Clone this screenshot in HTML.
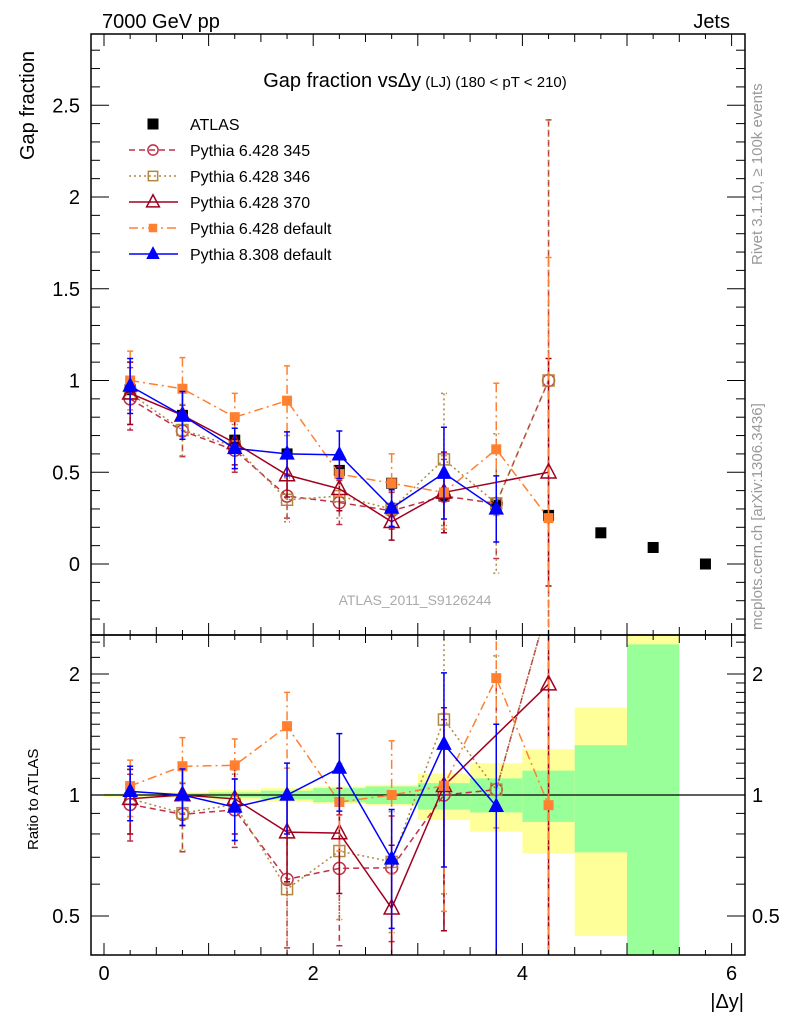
<!DOCTYPE html>
<html><head><meta charset="utf-8"><style>
html,body{margin:0;padding:0;background:#fff;width:786px;height:1024px;overflow:hidden;}
svg{display:block;font-family:"Liberation Sans",sans-serif;}
</style></head><body>
<svg id="chart" width="786" height="1024" viewBox="0 0 786 1024" xmlns="http://www.w3.org/2000/svg">
<defs>
<clipPath id="clipTop"><rect x="91" y="34" width="654" height="601"/></clipPath>
<clipPath id="clipBot"><rect x="91" y="635" width="654" height="320"/></clipPath>
</defs>
<text x="102" y="28" font-size="20">7000 GeV pp</text>
<text x="730" y="28" font-size="20" text-anchor="end">Jets</text>
<text transform="translate(34,160) rotate(-90)" font-size="20">Gap fraction</text>
<text transform="translate(38,850) rotate(-90)" font-size="15">Ratio to ATLAS</text>
<text x="744" y="1008" font-size="20" text-anchor="end">|Δy|</text>
<text x="415" y="87" font-size="20" text-anchor="middle">Gap fraction vs<tspan>Δy</tspan><tspan font-size="15"> (LJ) (180 &lt; pT &lt; 210)</tspan></text>
<text transform="translate(762,265) rotate(-90)" font-size="15" fill="#999">Rivet 3.1.10, ≥ 100k events</text>
<text transform="translate(762,630) rotate(-90)" font-size="15" fill="#999">mcplots.cern.ch [arXiv:1306.3436]</text>
<text x="415" y="605" font-size="14" fill="#aaa" text-anchor="middle">ATLAS_2011_S9126244</text>
<g id="bands" clip-path="url(#clipBot)"></g>
<g id="marksTop" clip-path="url(#clipTop)"></g>
<g id="marksBot" clip-path="url(#clipBot)"></g>
<g id="axes"></g>
<g id="legend"></g>
</svg>
<script>
const xCenters=[0.25,0.75,1.25,1.75,2.25,2.75,3.25,3.75,4.25,4.75,5.25,5.75];
const atlasVals=[0.95,0.81,0.675,0.60,0.51,0.44,0.37,0.32,0.265,0.17,0.09,0.0];
const p345Vals=[0.90,0.725,0.62,0.37,0.335,0.29,0.37,0.33,1.0];
const p345Err=[0.17,0.14,0.12,0.12,0.12,0.1,0.2,0.3,1.42];
const p346Vals=[0.93,0.73,0.64,0.35,0.37,0.30,0.57,0.33,1.0];
const p346Err=[0.17,0.14,0.12,0.12,0.12,0.1,0.36,0.38,1.42];
const p370Vals=[0.93,0.81,0.66,0.485,0.41,0.23,0.39,null,0.50];
const p370Err=[0.17,0.13,0.12,0.12,0.12,0.1,0.22,null,0.62];
const p6defVals=[1.0,0.955,0.80,0.89,0.49,0.44,0.39,0.625,0.25];
const p6defErr=[0.16,0.17,0.13,0.19,0.12,0.16,0.2,0.36,1.42];
const p8Vals=[0.97,0.81,0.63,0.60,0.595,0.305,0.495,0.30,null];
const p8Err=[0.15,0.13,0.11,0.12,0.13,0.1,0.25,0.18,null];
const binEdges=[0,0.5,1,1.5,2,2.5,3,3.5,4,4.5,5,5.5,6];
const bandTotUp=[1.01,1.015,1.03,1.04,1.05,1.06,1.13,1.20,1.30,1.65,2.53,null];
const bandTotDn=[0.99,0.985,0.97,0.96,0.95,0.94,0.866,0.81,0.715,0.446,0.4,null];
const bandStatUp=[1.005,1.01,1.015,1.025,1.04,1.05,1.07,1.10,1.15,1.33,2.37,null];
const bandStatDn=[0.995,0.99,0.985,0.975,0.96,0.95,0.92,0.905,0.857,0.72,0.4,null];
const xTicks=[0,2,4,6];
const yTicksTop=[0,0.5,1,1.5,2,2.5];
const yTicksRatio=[0.5,1,2];

const NS="http://www.w3.org/2000/svg";
const L=91,R=745,T=34,M=635,B=955;
const X=v=>104+104.6*v;
const Y=v=>564-183.5*Math.min(3,Math.max(-0.5,v));
const YR=r=>795-121*Math.log2(Math.min(3,Math.max(0.3,r)));
function mk(tag,attrs,parent){const e=document.createElementNS(NS,tag);for(const k in attrs)e.setAttribute(k,attrs[k]);parent.appendChild(e);return e;}
const axes=document.getElementById('axes');
const bands=document.getElementById('bands');
const gTop=document.getElementById('marksTop');
const gBot=document.getElementById('marksBot');
const legend=document.getElementById('legend');

for(let i=0;i<binEdges.length-1;i++){
  if(bandTotUp[i]===null) continue;
  const x0=X(binEdges[i]),x1=X(binEdges[i+1]);
  const y1=mk('rect',{x:x0,y:YR(bandTotUp[i]),width:x1-x0,height:YR(bandTotDn[i])-YR(bandTotUp[i]),fill:'#ffff99'},bands);
  
  
  const g1=mk('rect',{x:x0,y:YR(bandStatUp[i]),width:x1-x0,height:YR(bandStatDn[i])-YR(bandStatUp[i]),fill:'#99ff99'},bands);
  
  
}
const one=mk('line',{x1:L,x2:R,y1:YR(1),y2:YR(1),stroke:'#000','stroke-width':1.2},bands);



const f1=mk('rect',{x:L,y:T,width:R-L,height:M-T,fill:'none',stroke:'#000','stroke-width':1.5},axes);


const f2=mk('rect',{x:L,y:M,width:R-L,height:B-M,fill:'none',stroke:'#000','stroke-width':1.5},axes);



for(let v=0;v<=6.01;v+=0.25){
  const major=Math.abs(v-Math.round(v*2)/2)<1e-6;
  const len=major?(Math.abs(v-Math.round(v))<1e-6?12:8):5;
  for(const [yb,dir] of [[M,-1],[T,1],[B,-1],[M,1]]){
    mk('line',{x1:X(v),x2:X(v),y1:yb,y2:yb+dir*len,stroke:'#000','stroke-width':1},axes);
  }
}
xTicks.forEach(v=>{const t=mk('text',{x:X(v),y:980,'font-size':20,'text-anchor':'middle'},axes);t.textContent=v;

});
for(let i=-3;i<=28;i++){const v=i/10;const y=Y(v);if(y<T||y>M)continue;
  const len=(i%5===0)?18:9;
  mk('line',{x1:L,x2:L+len,y1:y,y2:y,stroke:'#000'},axes);
  mk('line',{x1:R,x2:R-len,y1:y,y2:y,stroke:'#000'},axes);}
yTicksTop.forEach(v=>{const t=mk('text',{x:80,y:Y(v)+7,'font-size':20,'text-anchor':'end'},axes);t.textContent=v;

});
[0.4,0.5,0.6,0.7,0.8,0.9,1,1.1,1.2,1.3,1.4,1.5,1.6,1.7,1.8,1.9,2,2.2,2.4].forEach(v=>{const y=YR(v);if(y<M||y>B)return;
  const len=(v===0.5||v===1||v===2)?18:9;
  mk('line',{x1:L,x2:L+len,y1:y,y2:y,stroke:'#000'},axes);
  mk('line',{x1:R,x2:R-len,y1:y,y2:y,stroke:'#000'},axes);});
yTicksRatio.forEach(v=>{const t=mk('text',{x:80,y:YR(v)+7,'font-size':20,'text-anchor':'end'},axes);t.textContent=v;


const t2=mk('text',{x:752,y:YR(v)+7,'font-size':20},axes);t2.textContent=v;

});

function marker(g,type,x,y,color,sz){
  if(type==='sq'||type==='fsq'||type==='osq'){const s=sz;
    return mk('rect',{x:x-s/2,y:y-s/2,width:s,height:s,fill:type==='osq'?'none':color,stroke:color,'stroke-width':type==='osq'?1.5:0},g);}
  if(type==='oc')return mk('circle',{cx:x,cy:y,r:sz/2,fill:'none',stroke:color,'stroke-width':1.5},g);
  const h=sz*0.95;
  return mk('polygon',{points:`${x},${y-h*0.6} ${x-sz/2},${y+h*0.4} ${x+sz/2},${y+h*0.4}`,fill:type==='ftri'?color:'none',stroke:color,'stroke-width':1.5},g);
}
const series=[
 {name:'p345',label:'Pythia 6.428 345',vals:p345Vals,err:p345Err,color:'#c03048',dash:'6,4',m:'oc',sz:12},
 {name:'p346',label:'Pythia 6.428 346',vals:p346Vals,err:p346Err,color:'#b08840',dash:'2,3',m:'osq',sz:11},
 {name:'p370',label:'Pythia 6.428 370',vals:p370Vals,err:p370Err,color:'#a00020',dash:'',m:'otri',sz:15},
 {name:'p6def',label:'Pythia 6.428 default',vals:p6defVals,err:p6defErr,color:'#ff8030',dash:'9,4,2,4',m:'fsq',sz:10},
 {name:'p8def',label:'Pythia 8.308 default',vals:p8Vals,err:p8Err,color:'#0000ff',dash:'',m:'ftri',sz:13}
];
function drawSeries(g,s,ratio){
  const pts=[];
  s.vals.forEach((v,i)=>{if(v===null)return;
    const a=atlasVals[i];
    const val=ratio?v/a:v, e=ratio?s.err[i]/a:s.err[i];
    const ym=ratio?YR:Y;
    pts.push([X(xCenters[i]),ym(val),ym(val+e),ym(val-e)]);});
  let d='';pts.forEach((p,i)=>d+=(i?'L':'M')+p[0]+','+p[1]);
  const ln=mk('path',{d:d,fill:'none',stroke:s.color,'stroke-width':1.5,'stroke-dasharray':s.dash},g);
  
  
  pts.forEach(p=>{
    const eb=mk('path',{d:`M${p[0]},${p[2]}L${p[0]},${p[3]}M${p[0]-3},${p[2]}L${p[0]+3},${p[2]}M${p[0]-3},${p[3]}L${p[0]+3},${p[3]}`,stroke:s.color,'stroke-width':1.5,'stroke-dasharray':s.dash,fill:'none'},g);
    
    
  });
  pts.forEach(p=>{const m=marker(g,s.m,p[0],p[1],s.color,s.sz);
    
    });
}
atlasVals.forEach((v,i)=>{const m=marker(gTop,'sq',X(xCenters[i]),Y(v),'#000',11);
  
  });
series.forEach(s=>drawSeries(gTop,s,false));
series.forEach(s=>drawSeries(gBot,s,true));

const lx=190,ly0=124,ldy=26;
const lm=marker(legend,'sq',153,ly0,'#000',11);


const lt=mk('text',{x:lx,y:ly0+6,'font-size':16},legend);lt.textContent='ATLAS';


series.forEach((s,k)=>{const y=ly0+ldy*(k+1);
  const l=mk('line',{x1:129,x2:178,y1:y,y2:y,stroke:s.color,'stroke-width':1.5,'stroke-dasharray':s.dash},legend);
  
  
  const m=marker(legend,s.m,153,y,s.color,s.sz*0.85);
  
  
  const t=mk('text',{x:lx,y:y+6,'font-size':16},legend);t.textContent=s.label;
  
  
});
</script>
</body></html>
